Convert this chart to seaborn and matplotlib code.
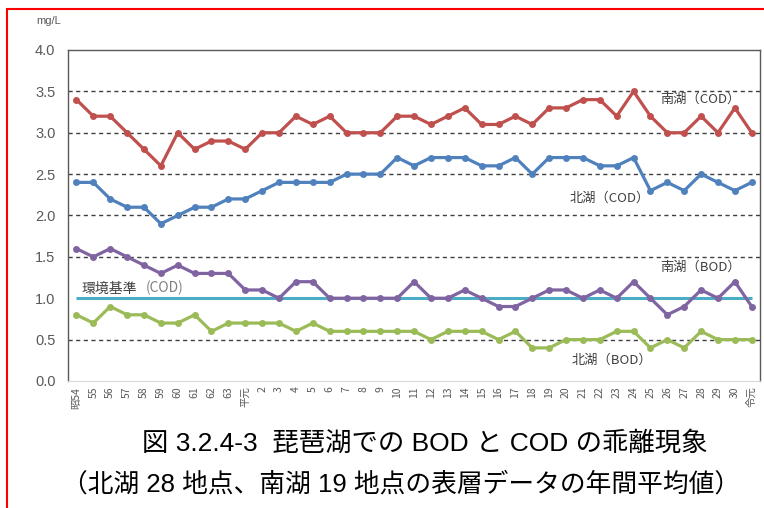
import pandas as pd
import seaborn as sns
import matplotlib.pyplot as plt
from matplotlib.patches import Rectangle

years = ["昭54", "55", "56", "57", "58", "59", "60", "61", "62", "63", "平元"] + \
    [str(i) for i in range(2, 31)] + ["令元"]

south_cod = [3.4, 3.2, 3.2, 3.0, 2.8, 2.6, 3.0, 2.8, 2.9, 2.9,
             2.8, 3.0, 3.0, 3.2, 3.1, 3.2, 3.0, 3.0, 3.0, 3.2,
             3.2, 3.1, 3.2, 3.3, 3.1, 3.1, 3.2, 3.1, 3.3, 3.3,
             3.4, 3.4, 3.2, 3.5, 3.2, 3.0, 3.0, 3.2, 3.0, 3.3, 3.0]
north_cod = [2.4, 2.4, 2.2, 2.1, 2.1, 1.9, 2.0, 2.1, 2.1, 2.2,
             2.2, 2.3, 2.4, 2.4, 2.4, 2.4, 2.5, 2.5, 2.5, 2.7,
             2.6, 2.7, 2.7, 2.7, 2.6, 2.6, 2.7, 2.5, 2.7, 2.7,
             2.7, 2.6, 2.6, 2.7, 2.3, 2.4, 2.3, 2.5, 2.4, 2.3, 2.4]
south_bod = [1.6, 1.5, 1.6, 1.5, 1.4, 1.3, 1.4, 1.3, 1.3, 1.3,
             1.1, 1.1, 1.0, 1.2, 1.2, 1.0, 1.0, 1.0, 1.0, 1.0,
             1.2, 1.0, 1.0, 1.1, 1.0, 0.9, 0.9, 1.0, 1.1, 1.1,
             1.0, 1.1, 1.0, 1.2, 1.0, 0.8, 0.9, 1.1, 1.0, 1.2, 0.9]
north_bod = [0.8, 0.7, 0.9, 0.8, 0.8, 0.7, 0.7, 0.8, 0.6, 0.7,
             0.7, 0.7, 0.7, 0.6, 0.7, 0.6, 0.6, 0.6, 0.6, 0.6,
             0.6, 0.5, 0.6, 0.6, 0.6, 0.5, 0.6, 0.4, 0.4, 0.5,
             0.5, 0.5, 0.6, 0.6, 0.4, 0.5, 0.4, 0.6, 0.5, 0.5, 0.5]
std_cod = 1.0

df = pd.DataFrame({
    "pos": range(len(years)),
    "south_cod": south_cod,
    "north_cod": north_cod,
    "south_bod": south_bod,
    "north_bod": north_bod,
})

sns.set_style("white")
plt.rcParams["font.family"] = ["Noto Sans CJK JP", "DejaVu Sans"]

fig = plt.figure(figsize=(7.64, 5.08), dpi=100)
ax = fig.add_axes([0.089, 0.25, 0.906, 0.6516])

for y in [0.5, 1.5, 2.0, 2.5, 3.0, 3.5]:
    ax.axhline(y, color="#404040", lw=1.0, ls=(0, (3, 2.5)), zorder=1)

ax.hlines(std_cod, 0, len(years) - 1, color="#4BACC6", lw=2.2, zorder=2)

series = [("south_cod", "#C0504D"), ("north_cod", "#4F81BD"),
          ("south_bod", "#8064A2"), ("north_bod", "#9BBB59")]
for col, c in series:
    sns.lineplot(data=df, x="pos", y=col, ax=ax, color=c, lw=2.3,
                 marker="o", markersize=5, markeredgewidth=0, zorder=3)

ax.set_xlim(-0.5, len(years) - 0.5)
ax.set_ylim(0, 4.0)
ax.set_yticks([0, 0.5, 1.0, 1.5, 2.0, 2.5, 3.0, 3.5, 4.0])
ax.set_yticklabels([f"{v:.1f}" for v in ax.get_yticks()], color="#595959", fontsize=10.5,
                   family="Liberation Sans")
ax.set_xticks(range(len(years)))
ax.set_xticklabels(years, rotation=90, fontsize=7.5, color="#595959")
ax.tick_params(axis="y", length=0, pad=9)
ax.tick_params(axis="x", length=0, pad=4)
ax.set_xlabel("")
ax.set_ylabel("")

for s in ["left", "top", "right"]:
    ax.spines[s].set_color("#595959")
    ax.spines[s].set_linewidth(1.0)
ax.spines["bottom"].set_color("#D9D9D9")

lab = dict(fontsize=9.5, color="#404040")
ax.text(34.6, 3.36, "南湖（COD）", **lab)
ax.text(29.2, 2.17, "北湖（COD）", **lab)
ax.text(34.6, 1.33, "南湖（BOD）", **lab)
ax.text(29.3, 0.21, "北湖（BOD）", **lab)
ax.text(0.3, 1.07, "環境基準", fontsize=10, color="#404040")
ax.text(4.1, 1.07, "(COD)", fontsize=10, color="#7F7F7F")

fig.text(0.048, 0.958, "mg/L", fontsize=8, color="#595959", ha="left", va="center",
         family="Liberation Sans")

title_font = ["Liberation Sans", "Noto Sans CJK JP"]
fig.text(0.556, 0.128, "図 3.2.4-3  琵琶湖での BOD と COD の乖離現象",
         fontsize=19, ha="center", va="center", color="black", family=title_font)
fig.text(0.525, 0.047, "（北湖 28 地点、南湖 19 地点の表層データの年間平均値）",
         fontsize=18.5, ha="center", va="center", color="black", family=title_font)

fig.patches.append(Rectangle((7 / 764, -0.1), 1.2, 1 - 9 / 508 + 0.1,
                             transform=fig.transFigure, fill=False,
                             edgecolor="#FF0000", lw=1.5))

fig.savefig("out.png", dpi=100)
